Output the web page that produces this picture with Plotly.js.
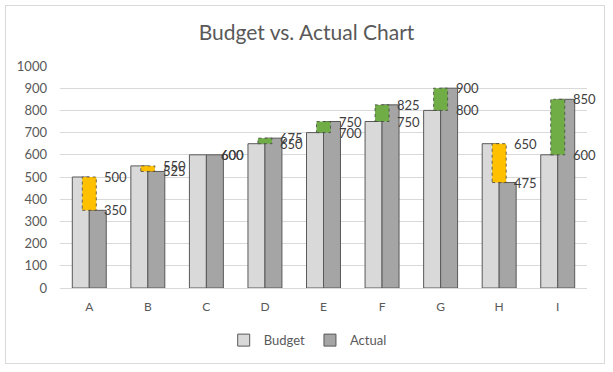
<!DOCTYPE html>
<html>
<head>
<meta charset="utf-8">
<script src="https://cdn.plot.ly/plotly-3.0.1.min.js"></script>
<style>
html,body{margin:0;padding:0;background:#fff;}
#frame{position:absolute;left:5px;top:5px;width:600px;height:359px;border:1px solid #d9d9d9;box-sizing:border-box;}
#chart{position:absolute;left:0;top:0;width:613px;height:372px;}
</style>
</head>
<body>
<div id="frame"></div>
<div id="chart"></div>
<script>
const categories = ['A','B','C','D','E','F','G','H','I'];
const budget = [500, 550, 600, 650, 700, 750, 800, 650, 600];
const actual = [350, 525, 600, 675, 750, 825, 900, 475, 850];

const diffBase = budget.map((b,i)=>Math.min(b, actual[i]));
const diffLen = budget.map((b,i)=>Math.abs(actual[i]-b));
const diffColor = budget.map((b,i)=> actual[i] >= b ? '#70ad47' : '#ffc000');
const diffW = 0.24;

const font = 'Lato, "Open Sans", sans-serif';

const traces = [
  {type:'bar', name:'Budget', x:categories, y:budget,
   marker:{color:'#d9d9d9', line:{color:'#595959', width:1}}},
  {type:'bar', name:'Actual', x:categories, y:actual,
   marker:{color:'#a5a5a5', line:{color:'#595959', width:1}}},
  {type:'bar', name:'Diff', x:categories, y:diffLen, base:diffBase, width:diffW,
   xaxis:'x2', showlegend:false, hoverinfo:'skip',
   marker:{color:diffColor, line:{width:0}}}
];

const shapes = categories.map((c,i)=>({
  type:'rect', xref:'x2', yref:'y',
  x0:i-diffW/2, x1:i+diffW/2, y0:diffBase[i], y1:diffBase[i]+diffLen[i],
  line:{color:'rgba(70,70,70,0.8)', width:1, dash:'dot'}
})).filter((s,i)=>diffLen[i]>0);

const annotations = [];
categories.forEach((c,i)=>{
  [budget[i], actual[i]].forEach(v=>{
    annotations.push({x:i, y:v, xref:'x', yref:'y', text:String(v),
      showarrow:false, xanchor:'left', yanchor:'middle', xshift:13,
      font:{family:font, size:13, color:'#404040'}});
  });
});

const layout = {
  width:613, height:372,
  paper_bgcolor:'rgba(0,0,0,0)', plot_bgcolor:'rgba(0,0,0,0)',
  margin:{l:60, r:26, t:66, b:84},
  title:{text:'Budget vs. Actual Chart', x:0.5, xanchor:'center', y:0.913, yanchor:'middle',
    font:{family:font, size:21, color:'#595959'}},
  barmode:'group', bargap:0.42, bargroupgap:0,
  xaxis:{type:'category', range:[-0.5,8.5], showgrid:false, zeroline:false,
    showline:true, linecolor:'#d9d9d9', linewidth:1, ticks:'',
    tickfont:{family:font, size:12, color:'#595959'}, ticklabelstandoff:8},
  xaxis2:{type:'category', range:[-0.5,8.5], overlaying:'x', visible:false, categoryarray:categories},
  yaxis:{range:[0,1000], dtick:100, showgrid:true, gridcolor:'#d9d9d9', gridwidth:1,
    zeroline:false, showline:false, ticks:'',
    tickfont:{family:font, size:13, color:'#595959'}, ticklabelstandoff:12},
  legend:{orientation:'h', x:0.47, xanchor:'center', y:-0.235, yanchor:'middle',
    font:{family:font, size:13, color:'#595959'}, itemwidth:30, traceorder:'normal'},
  shapes:shapes,
  annotations:annotations,
  showlegend:true
};

Plotly.newPlot('chart', traces, layout, {displayModeBar:false, staticPlot:true});
</script>
</body>
</html>
